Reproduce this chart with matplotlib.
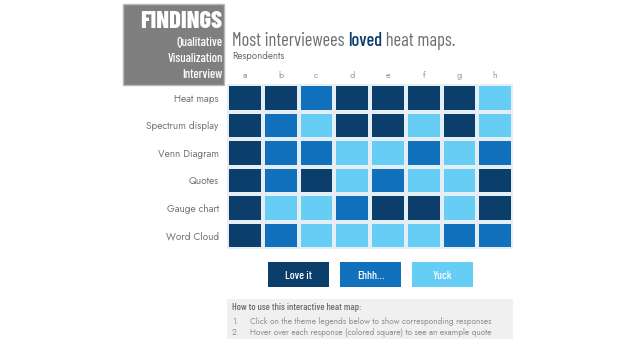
import matplotlib
matplotlib.use("Agg")
import matplotlib.pyplot as plt
from matplotlib.colors import ListedColormap
from matplotlib.patches import Rectangle
from matplotlib.font_manager import FontProperties, findfont
from matplotlib.textpath import TextPath
import numpy as np

# ---------------- data ----------------
respondents = ["a", "b", "c", "d", "e", "f", "g", "h"]
themes = ["Heat maps", "Spectrum display", "Venn Diagram", "Quotes", "Gauge chart", "Word Cloud"]
# 0 = Love it, 1 = Ehhh..., 2 = Yuck
heat_maps = [0, 0, 1, 0, 0, 0, 0, 2]
spectrum_display = [0, 1, 2, 0, 0, 2, 0, 2]
venn_diagram = [0, 1, 1, 2, 2, 1, 2, 1]
quotes = [0, 1, 0, 2, 1, 2, 2, 0]
gauge_chart = [0, 2, 2, 1, 0, 0, 2, 0]
word_cloud = [0, 1, 2, 2, 2, 2, 1, 1]
response_labels = ["Love it", "Ehhh\u2026", "Yuck"]
title_parts = ["Most interviewees ", "loved", " heat maps."]
side_title = "FINDINGS"
side_lines = ["Qualitative", "Visualization", "Interview"]
help_title = "How to use this interactive heat map:"
help_lines = ["Click on the theme legends below to show corresponding responses",
              "Hover over each response (colored square) to see an example quote"]

# ---------------- style ----------------
colors = ["#0b3e6b", "#1271bd", "#66cdf5"]
grey_txt = "#6e6e6e"
BODY = ["Jost", "DejaVu Sans"]


def available(fam):
    try:
        findfont(FontProperties(family=fam), fallback_to_default=False)
        return True
    except Exception:
        return False


CF = "Barlow Condensed" if available("Barlow Condensed") else "DejaVu Sans"
COND = [CF, "DejaVu Sans"]


def ink(s, fp):
    e = TextPath((0, 0), s, size=100, prop=fp).get_extents()
    return e.width / 100.0, e.height / 100.0


def size_for(text, weight, width_px, cap_px):
    fp = FontProperties(family=CF, weight=weight)
    w, _ = ink(text, fp)
    _, c = ink("H", fp)
    return float(np.sqrt((width_px * 0.72 / w) * (cap_px * 0.72 / c)))


def fit(text, fam, weight, width_px):
    w, _ = ink(text, FontProperties(family=fam, weight=weight))
    return width_px * 0.72 / w


W, H = 635, 350
fig = plt.figure(figsize=(W / 100, H / 100), dpi=100)
fig.patch.set_facecolor("white")

ov = fig.add_axes([0, 0, 1, 1])
ov.set_xlim(0, W)
ov.set_ylim(H, 0)
ov.axis("off")
r = fig.canvas.get_renderer()

# grey title box
ov.add_patch(Rectangle((123, 4), 101, 81, facecolor="#7f7f7f", edgecolor="#b8b8b8", lw=1))
ov.text(222, 27.7, side_title, color="white", fontweight="heavy", ha="right", va="baseline",
        family=COND, fontsize=size_for(side_title, "heavy", 90, 15.4))
sz_s = size_for("Visualization", "medium", 53.5, 9.0)
for s, yb in zip(side_lines, [45.7, 61.8, 78.0]):
    ov.text(222.5, yb, s, color="white", fontsize=sz_s, fontweight="medium",
            ha="right", va="baseline", family=COND)

# title with highlighted word
sz_t = size_for("".join(title_parts), "normal", 209, 13.7)
x = 232
for part, col in zip(title_parts, [grey_txt, colors[0], grey_txt]):
    t = ov.text(x, 45.7, part, color=col, fontsize=sz_t, ha="left", va="baseline", family=COND,
                fontweight="medium" if part == "loved" else "normal")
    x += t.get_window_extent(renderer=r).width
ov.text(232, 59, "Respondents", color=grey_txt, ha="left", va="baseline", family=BODY,
        fontsize=7)

# heatmap
grid = np.array([heat_maps, spectrum_display, venn_diagram, quotes, gauge_chart, word_cloud])
ax = fig.add_axes([227 / W, (H - 249) / H, 286 / W, 165 / H])
cmap = ListedColormap(colors)
ax.pcolormesh(np.arange(len(respondents) + 1), np.arange(len(themes) + 1), grid,
              cmap=cmap, vmin=-0.5, vmax=2.5, edgecolors="#e6eef5", linewidth=1.5)
ax.set_xlim(0, len(respondents))
ax.set_ylim(len(themes), 0)
ax.set_xticks(np.arange(len(respondents)) + 0.5)
ax.set_xticklabels(respondents)
ax.set_yticks(np.arange(len(themes)) + 0.5)
ax.set_yticklabels(themes)
ax.xaxis.tick_top()
ax.tick_params(axis="x", length=0, pad=3, labelsize=6.5, labelcolor="#9a9a9a")
ax.tick_params(axis="y", length=0, pad=6, labelsize=7.2, labelcolor="#757575")
for lab in ax.get_xticklabels() + ax.get_yticklabels():
    lab.set_fontfamily(BODY)
for s in ax.spines.values():
    s.set_visible(False)

# legend buttons
sz_l = size_for("Love it", "medium", 24, 8.6)
for i, (lab, col) in enumerate(zip(response_labels, colors)):
    x0 = 268 + 72 * i
    ov.add_patch(Rectangle((x0, 262), 61, 25, facecolor=col, edgecolor="none"))
    ov.text(x0 + 30.5, 279.3, lab, color="white", fontsize=sz_l, fontweight="medium",
            ha="center", va="baseline", family=COND)

# instructions box
ov.add_patch(Rectangle((227, 299), 286, 40, facecolor="#f0f0f0", edgecolor="none"))
ov.text(232, 310, help_title, color="#6a6a6a", fontweight="medium", ha="left", va="baseline",
        family=COND, fontsize=7.2)
sz_h = fit(help_lines[0], "Jost", "normal", 242)
for i, s in enumerate(help_lines):
    y = 324.5 + 10.5 * i
    ov.text(232, y, f"{i + 1}.", color="#909090", fontsize=sz_h, ha="left", va="baseline", family=BODY)
    ov.text(250, y, s, color="#909090", fontsize=sz_h, ha="left", va="baseline", family=BODY)

fig.savefig("out.png", dpi=100, facecolor="white")
